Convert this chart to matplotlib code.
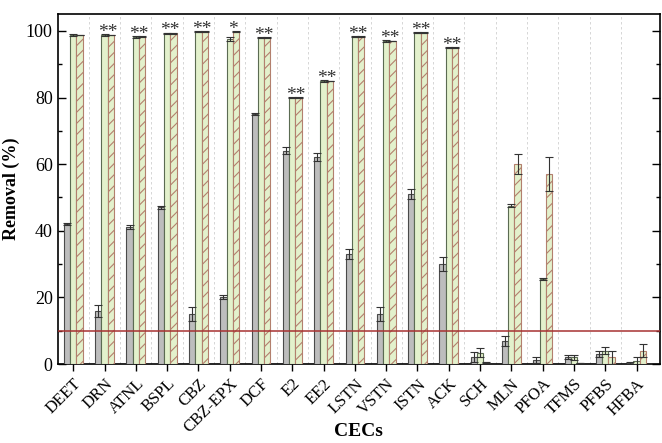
import numpy as np
import matplotlib.pyplot as plt

plt.rcParams.update({"font.family": "Liberation Serif",
                     "font.size": 13,
                     "hatch.linewidth": 0.8})

cecs = ["DEET", "DRN", "ATNL", "BSPL", "CBZ", "CBZ-EPX", "DCF", "E2", "EE2",
        "LSTN", "VSTN", "ISTN", "ACK", "SCH", "MLN", "PFOA", "TFMS", "PFBS", "HFBA"]

grey_val = [42, 16, 41, 47, 15, 20, 75, 64, 62, 33, 15, 51, 30, 2, 7, 1.2, 2, 3, 0.2]
grey_err = [0.4, 1.8, 0.6, 0.4, 2, 0.6, 0.3, 1, 1.2, 1.6, 2, 1.6, 2, 1.5, 1.5, 1, 0.6, 0.8, 0.5]
green_val = [98.8, 98.8, 98.3, 99.3, 99.8, 97.5, 98, 80, 85, 98.3, 97, 99.5, 95, 3.4, 47.5, 25.5, 2, 4, 1]
green_err = [0.2, 0.3, 0.3, 0.2, 0.2, 0.6, 0.2, 0.2, 0.2, 0.2, 0.2, 0.2, 0.2, 1.4, 0.4, 0.2, 0.8, 1, 1.2]
hatch_val = [98.8, 98.8, 98.3, 99.3, 99.8, 99.8, 98, 80, 85, 98.3, 97, 99.5, 95, 0.5, 60, 57, 0.3, 2, 4]
hatch_err = [0.1, 0.1, 0.1, 0.1, 0.1, 0.1, 0.1, 0.1, 0.1, 0.1, 0.1, 0.1, 0.1, 0.1, 3, 5, 0.1, 2, 2]
stars = ["", "**", "**", "**", "**", "*", "**", "**", "**", "**", "**", "**", "**",
         "", "", "", "", "", ""]

x = np.arange(len(cecs))
w = 0.2

fig = plt.figure(figsize=(6.62, 4.43), dpi=100)
ax = fig.add_axes([0.087, 0.178, 0.91, 0.79])

ekw = dict(elinewidth=0.8, capthick=0.8, ecolor="#333333")
ax.bar(x - w, grey_val, w, yerr=grey_err, capsize=3, color="#bdbdbd",
       edgecolor="#4a4a4a", linewidth=0.8, error_kw=ekw, zorder=3)
ax.bar(x, green_val, w, yerr=green_err, capsize=3, color="#e3f1cc",
       edgecolor="#5b6b52", linewidth=0.8, error_kw=ekw, zorder=3)
ax.bar(x + w, hatch_val, w, yerr=hatch_err, capsize=3, color="#e3f1cc",
       edgecolor="#b3806e", hatch="///", linewidth=0.8, error_kw=ekw, zorder=3)

for xi, s, g, h in zip(x, stars, green_val, hatch_val):
    if s:
        ax.text(xi + 0.1, max(g, h) - 1.8, s, ha="center", va="bottom",
                fontsize=14, color="#333333", zorder=4)

ax.axhline(10, color="#a83232", linewidth=1.3, alpha=0.85, zorder=4)

for xi in x[:-1]:
    ax.axvline(xi + 0.5, color="#d0d0d0", linestyle=(0, (3, 3)), linewidth=0.6, zorder=1)

ax.set_xlim(-0.5, 18.75)
ax.set_ylim(0, 105)
ax.set_xticks(x)
ax.set_xticklabels(cecs, rotation=45, ha="right", rotation_mode="anchor", fontsize=12)
ax.set_yticks([0, 20, 40, 60, 80, 100])
ax.set_yticks([10, 30, 50, 70, 90], minor=True)
ax.tick_params(axis="y", which="both", direction="in", right=True, width=1)
ax.tick_params(axis="y", which="major", length=6)
ax.tick_params(axis="y", which="minor", length=3)
ax.tick_params(axis="x", direction="out", length=5, width=1)
for sp in ax.spines.values():
    sp.set_linewidth(1.2)

ax.set_ylabel("Removal (%)", fontweight="bold", fontsize=13)
ax.set_xlabel("CECs", fontweight="bold", fontsize=14)
ax.xaxis.set_label_coords(0.5, -0.168)

fig.savefig("out.png", dpi=100)
